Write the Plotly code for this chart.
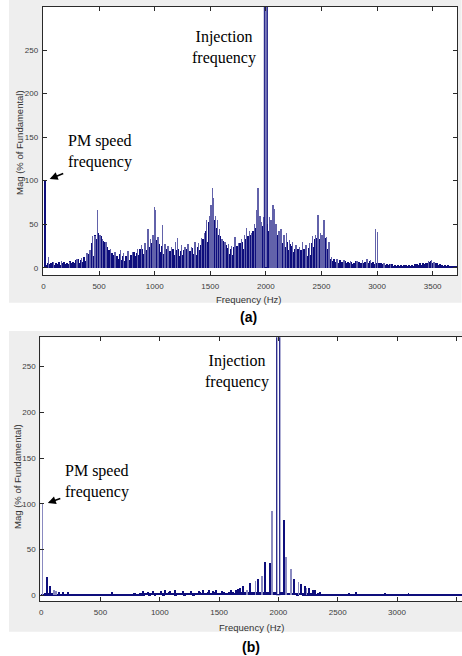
import plotly.graph_objects as go

W, H = 462, 656

# ---------------- (a) spectrum ----------------
a_grid_step = 25  # Hz, dense background bins
a_base = [
    1, 3, 4, 3, 4, 4, 3, 4, 4, 5,
    5, 5, 6, 7, 7, 8, 10, 14, 30, 33,
    34, 30, 24, 18, 14, 12, 10, 9, 10, 8,
    9, 11, 12, 13, 15, 16, 20, 22, 24, 27,
    25, 22, 18, 16, 15, 13, 14, 15, 14, 15,
    13, 14, 15, 16, 15, 17, 20, 24, 30, 40,
    52, 48, 38, 30, 24, 20, 16, 15, 16, 18,
    20, 22, 25, 28, 30, 33, 36, 40, 42, 40,
    42, 42, 40, 36, 30, 28, 25, 24, 20, 18,
    16, 15, 14, 14, 13, 15, 20, 24, 27, 26,
    27, 28, 22, 8, 7, 6, 6, 5, 5, 5,
    5, 4, 5, 5, 4, 5, 6, 6, 5, 4,
    4, 4, 3, 3, 3, 2, 2, 2, 2, 2,
    2, 2, 2, 2, 3, 3, 3, 4, 5, 6,
    5, 4, 3, 2, 2, 2, 1, 1, 1,
]
# in-between bins (half a step later) - jagged top of the dense spectrum
a_ripple = [
    2, 6, 5, 7, 5, 7, 5, 7, 6, 8,
    7, 9, 10, 9, 12, 11, 16, 28, 38, 40,
    37, 31, 27, 20, 17, 15, 14, 16, 13, 14,
    16, 15, 18, 17, 21, 22, 26, 30, 29, 33,
    32, 27, 25, 21, 22, 19, 21, 20, 22, 19,
    20, 21, 19, 23, 21, 24, 26, 33, 42, 52,
    65, 55, 46, 37, 31, 26, 23, 21, 24, 25,
    28, 30, 33, 36, 38, 42, 46, 50, 48, 52,
    50, 52, 49, 44, 38, 35, 33, 30, 27, 25,
    22, 21, 20, 21, 19, 23, 28, 33, 34, 33,
    35, 34, 25, 10, 10, 8, 9, 7, 8, 7,
    7, 6, 8, 7, 6, 7, 9, 8, 7, 6,
    6, 5, 5, 4, 4, 4, 3, 3, 3, 3,
    3, 3, 3, 4, 4, 5, 5, 6, 7, 8,
    7, 5, 4, 3, 3, 3, 2, 2, 2,
]
a_spike_f = [
    45, 90, 160, 230, 300, 340, 390, 415, 440, 462,
    485, 505, 530, 560, 600, 640, 690, 720, 760, 800,
    845, 880, 910, 938, 960, 985, 998, 1008, 1030, 1067,
    1090, 1120, 1150, 1185, 1205, 1240, 1270, 1300, 1330, 1360,
    1395, 1420, 1445, 1465, 1490, 1505, 1517, 1530, 1545, 1562,
    1580, 1605, 1630, 1660, 1690, 1720, 1750, 1780, 1805, 1825,
    1850, 1870, 1895, 1913, 1929, 1945, 1960, 1980, 2030, 2045,
    2061, 2075, 2090, 2115, 2134, 2160, 2184, 2210, 2240, 2270,
    2300, 2330, 2360, 2390, 2420, 2445, 2469, 2490, 2505, 2523,
    2545, 2565, 2590, 2640, 2700, 2760, 2820, 2870, 2910, 2940,
    2986, 3005, 3060, 3120, 3460, 3490, 3510,
]
a_spike_v = [
    12, 7, 8, 7, 10, 11, 17, 20, 37, 36,
    66, 38, 33, 30, 22, 18, 20, 17, 19, 18,
    22, 26, 28, 44, 33, 38, 70, 66, 35, 49,
    27, 25, 24, 30, 34, 26, 24, 27, 24, 30,
    28, 34, 40, 55, 60, 72, 92, 80, 60, 55,
    45, 33, 30, 27, 25, 35, 29, 33, 38, 46,
    42, 40, 50, 66, 92, 60, 52, 58, 58, 55,
    72, 68, 50, 42, 45, 38, 40, 32, 30, 26,
    24, 30, 26, 28, 36, 38, 61, 40, 38, 55,
    35, 30, 12, 10, 9, 8, 8, 9, 10, 9,
    44, 41, 5, 4, 8, 9, 7,
]
a_pm_f, a_pm_v = [15], [100]
a_inj_f, a_inj_v = [2005], [400]

# ---------------- (b) spectrum ----------------
b_grid_step = 25
b_base = [
    1, 2, 2, 2, 2, 1.5, 1.5, 1.5, 1.5, 1.5,
    1, 1.5, 1, 1.5, 1, 1.5, 1, 1.5, 1, 1.5,
    1.5, 1, 1.5, 1.5, 1, 1.5, 1.5, 1, 1.5, 1.5,
    1.5, 2, 1.5, 2, 2, 2.5, 2, 2.5, 2, 2.5,
    2.5, 2, 2.5, 3, 2.5, 2, 2.5, 2.5, 2, 2.5,
    2.5, 2, 2.5, 3, 2.5, 2.5, 3, 2.5, 3, 2.5,
    2.5, 3, 2.5, 3, 3, 2.5, 3, 3.5, 3, 3,
    3, 3, 3.5, 3, 3, 3.5, 3, 3, 3.5, 3,
    3, 3, 3, 2.5, 2.5, 2.5, 2, 2.5, 2, 2,
    2, 2, 1.5, 2, 1.5, 1.5, 1.5, 1.5, 1.5, 1.5,
    1.5, 1.5, 1, 1.5, 1.5, 1.5, 1, 1.5, 1.5, 1,
    1.5, 1, 1.5, 1, 1.5, 1, 1, 1.5, 1, 1,
    1.5, 1, 1, 1.5, 1, 1, 1, 1.5, 1, 1,
    1, 1, 1, 1, 1, 1, 1, 1, 1, 1,
    1, 1,
]
b_dark_f = [
    52, 75, 150, 185, 230, 600, 860, 905, 945, 1010,
    1050, 1090, 1130, 1200, 1270, 1330, 1365, 1420, 1450, 1480,
    1530, 1600, 1645, 1665, 1683, 1706, 1767, 1829, 1888, 1930,
    2047, 2131, 2190, 2229, 2257, 2294, 2313, 2355, 2600, 2660,
    2900, 3100,
]
b_dark_v = [
    19.5, 10, 3.5, 3.5, 3, 3, 4, 3.5, 4, 4,
    5, 4, 5, 4, 4.5, 4, 5, 5, 4, 5,
    4, 5, 6, 6.5, 8, 9.6, 13, 18, 36, 35,
    82.5, 17.7, 12.6, 9.6, 7.7, 6, 5, 3.5, 2.5, 3,
    2.5, 2.5,
]
b_light_f = [13, 110, 130, 1740, 1809, 1865, 1950, 2067, 2109, 2173, 2240]
b_light_v = [100, 6, 4, 6, 15, 20.5, 91.6, 41.7, 28.6, 14, 8]
b_inj_f, b_inj_v = [2005], [400]

x_ticks = [0, 500, 1000, 1500, 2000, 2500, 3000, 3500]
y_ticks = [0, 50, 100, 150, 200, 250]

# ---------------- styling ----------------
NAVY = "#0e0e7c"
SPIKE = "#6262aa"
LIGHT = "#8a8ac0"
GREY_PANEL = "#eeeeee"
TICK_FONT = dict(family="Liberation Sans, Arial", size=8, color="#3c3c3c")
TITLE_FONT = dict(family="Liberation Sans, Arial", size=9.5, color="#333333")
SERIF = dict(family="Liberation Serif, Times New Roman", size=16, color="#000000")


def px_x(p):
    return p / W


def px_y(p):
    return 1 - p / H


fig = go.Figure()

# (a)
fig.add_trace(go.Bar(x=[i * a_grid_step for i in range(len(a_base))], y=a_base,
                     width=a_grid_step, offset=0, marker=dict(color=NAVY, line=dict(width=0)),
                     xaxis="x", yaxis="y"))
fig.add_trace(go.Bar(x=[i * a_grid_step + a_grid_step / 2 for i in range(len(a_ripple))],
                     y=a_ripple, width=10, marker=dict(color=NAVY, line=dict(width=0)),
                     xaxis="x", yaxis="y"))
fig.add_trace(go.Bar(x=a_spike_f, y=a_spike_v, width=4,
                     marker=dict(color=SPIKE, line=dict(width=0)), xaxis="x", yaxis="y"))
fig.add_trace(go.Bar(x=a_pm_f, y=a_pm_v, width=8,
                     marker=dict(color=NAVY, line=dict(width=0)), xaxis="x", yaxis="y"))
fig.add_trace(go.Bar(x=a_inj_f, y=a_inj_v, width=22,
                     marker=dict(color="#7c7cbc", line=dict(width=1, color=NAVY)),
                     xaxis="x", yaxis="y"))

# (b)
fig.add_trace(go.Bar(x=[i * b_grid_step for i in range(len(b_base))], y=b_base,
                     width=b_grid_step, offset=0, marker=dict(color=NAVY, line=dict(width=0)),
                     xaxis="x2", yaxis="y2"))
fig.add_trace(go.Bar(x=b_dark_f, y=b_dark_v, width=8,
                     marker=dict(color=NAVY, line=dict(width=0)), xaxis="x2", yaxis="y2"))
fig.add_trace(go.Bar(x=b_light_f, y=b_light_v, width=5,
                     marker=dict(color=LIGHT, line=dict(width=0)), xaxis="x2", yaxis="y2"))
fig.add_trace(go.Bar(x=b_inj_f, y=b_inj_v, width=20,
                     marker=dict(color="#ffffff", line=dict(width=1.2, color=NAVY)),
                     xaxis="x2", yaxis="y2"))

axis_common = dict(showgrid=False, zeroline=False, showline=True, linecolor="#2a2a2a",
                   linewidth=1, ticks="inside", ticklen=4, tickwidth=1, tickcolor="#2a2a2a",
                   tickfont=TICK_FONT, fixedrange=True)

fig.update_layout(
    width=W, height=H,
    margin=dict(l=0, r=0, t=0, b=0),
    paper_bgcolor="#ffffff",
    plot_bgcolor="rgba(0,0,0,0)",
    showlegend=False,
    barmode="overlay",
    bargap=0,
    hovermode=False,
    xaxis=dict(domain=[px_x(41), px_x(457.3)], range=[-6, 3722], anchor="y",
               tickvals=x_ticks, mirror="ticks", ticklabelstandoff=3, **axis_common),
    yaxis=dict(domain=[px_y(275), px_y(7)], range=[-8.3, 299.4], anchor="x",
               tickvals=y_ticks, mirror="ticks", ticklabelstandoff=2, **axis_common),
    xaxis2=dict(domain=[px_x(38.5), 1.0], range=[-7, 3548], anchor="y2",
                tickvals=x_ticks, mirror="ticks", ticklabelstandoff=3, **axis_common),
    yaxis2=dict(domain=[px_y(601), px_y(337.3)], range=[-6.2, 282], anchor="x2",
                tickvals=y_ticks, mirror=False, ticklabelstandoff=2, **axis_common),
)

shapes = []
# grey figure panels
shapes.append(dict(type="rect", xref="paper", yref="paper", layer="below",
                   x0=px_x(7), x1=px_x(461.5), y0=px_y(302.7), y1=px_y(0),
                   fillcolor=GREY_PANEL, line=dict(width=0)))
shapes.append(dict(type="rect", xref="paper", yref="paper", layer="below",
                   x0=px_x(7), x1=1.0, y0=px_y(631.7), y1=px_y(331),
                   fillcolor=GREY_PANEL, line=dict(width=0)))
# white axes areas
shapes.append(dict(type="rect", xref="x domain", yref="y domain", layer="below",
                   x0=0, x1=1, y0=0, y1=1, fillcolor="#ffffff", line=dict(width=0)))
shapes.append(dict(type="rect", xref="x2 domain", yref="y2 domain", layer="below",
                   x0=0, x1=1, y0=0, y1=1, fillcolor="#ffffff", line=dict(width=0)))
fig.update_layout(shapes=shapes)

ann = []
# (a)
ann.append(dict(text="Injection<br>frequency", x=px_x(222.5), y=px_y(48), xref="paper",
                yref="paper", xanchor="center", yanchor="middle", showarrow=False, font=SERIF))
ann.append(dict(text="PM speed<br>frequency", x=px_x(64), y=px_y(151.5), xref="paper",
                yref="paper", xanchor="left", yanchor="middle", align="left",
                showarrow=False, font=SERIF))
ann.append(dict(text="", x=56, y=102, xref="x", yref="y", showarrow=True, ax=15, ay=-6,
                arrowhead=2, arrowsize=1, arrowwidth=1.6, arrowcolor="#000000"))
ann.append(dict(text="Frequency (Hz)", x=px_x(248), y=px_y(299), xref="paper", yref="paper",
                xanchor="center", yanchor="middle", showarrow=False, font=TITLE_FONT))
ann.append(dict(text="Mag (% of Fundamental)", x=px_x(18), y=px_y(142), xref="paper",
                yref="paper", xanchor="center", yanchor="middle", textangle=-90,
                showarrow=False, font=TITLE_FONT))
ann.append(dict(text="<b>(a)</b>", x=px_x(248), y=px_y(317), xref="paper", yref="paper",
                xanchor="center", yanchor="middle", showarrow=False,
                font=dict(family="Liberation Sans, Arial", size=14, color="#000000")))
# (b)
ann.append(dict(text="Injection<br>frequency", x=px_x(236), y=px_y(372), xref="paper",
                yref="paper", xanchor="center", yanchor="middle", showarrow=False, font=SERIF))
ann.append(dict(text="PM speed<br>frequency", x=px_x(61), y=px_y(481.5), xref="paper",
                yref="paper", xanchor="left", yanchor="middle", align="left",
                showarrow=False, font=SERIF))
ann.append(dict(text="", x=56, y=101, xref="x2", yref="y2", showarrow=True, ax=14, ay=-5,
                arrowhead=2, arrowsize=1, arrowwidth=1.6, arrowcolor="#000000"))
ann.append(dict(text="Frequency (Hz)", x=px_x(251), y=px_y(627), xref="paper", yref="paper",
                xanchor="center", yanchor="middle", showarrow=False, font=TITLE_FONT))
ann.append(dict(text="Mag (% of Fundamental)", x=px_x(15), y=px_y(476), xref="paper",
                yref="paper", xanchor="center", yanchor="middle", textangle=-90,
                showarrow=False, font=TITLE_FONT))
ann.append(dict(text="<b>(b)</b>", x=px_x(250), y=px_y(647), xref="paper", yref="paper",
                xanchor="center", yanchor="middle", showarrow=False,
                font=dict(family="Liberation Sans, Arial", size=14, color="#000000")))
fig.update_layout(annotations=ann)

fig.write_html(
    "out.html",
    config=dict(displayModeBar=False),
    post_script="document.body.style.margin='0';document.body.style.padding='0';"
                "document.body.style.overflow='hidden';",
)
